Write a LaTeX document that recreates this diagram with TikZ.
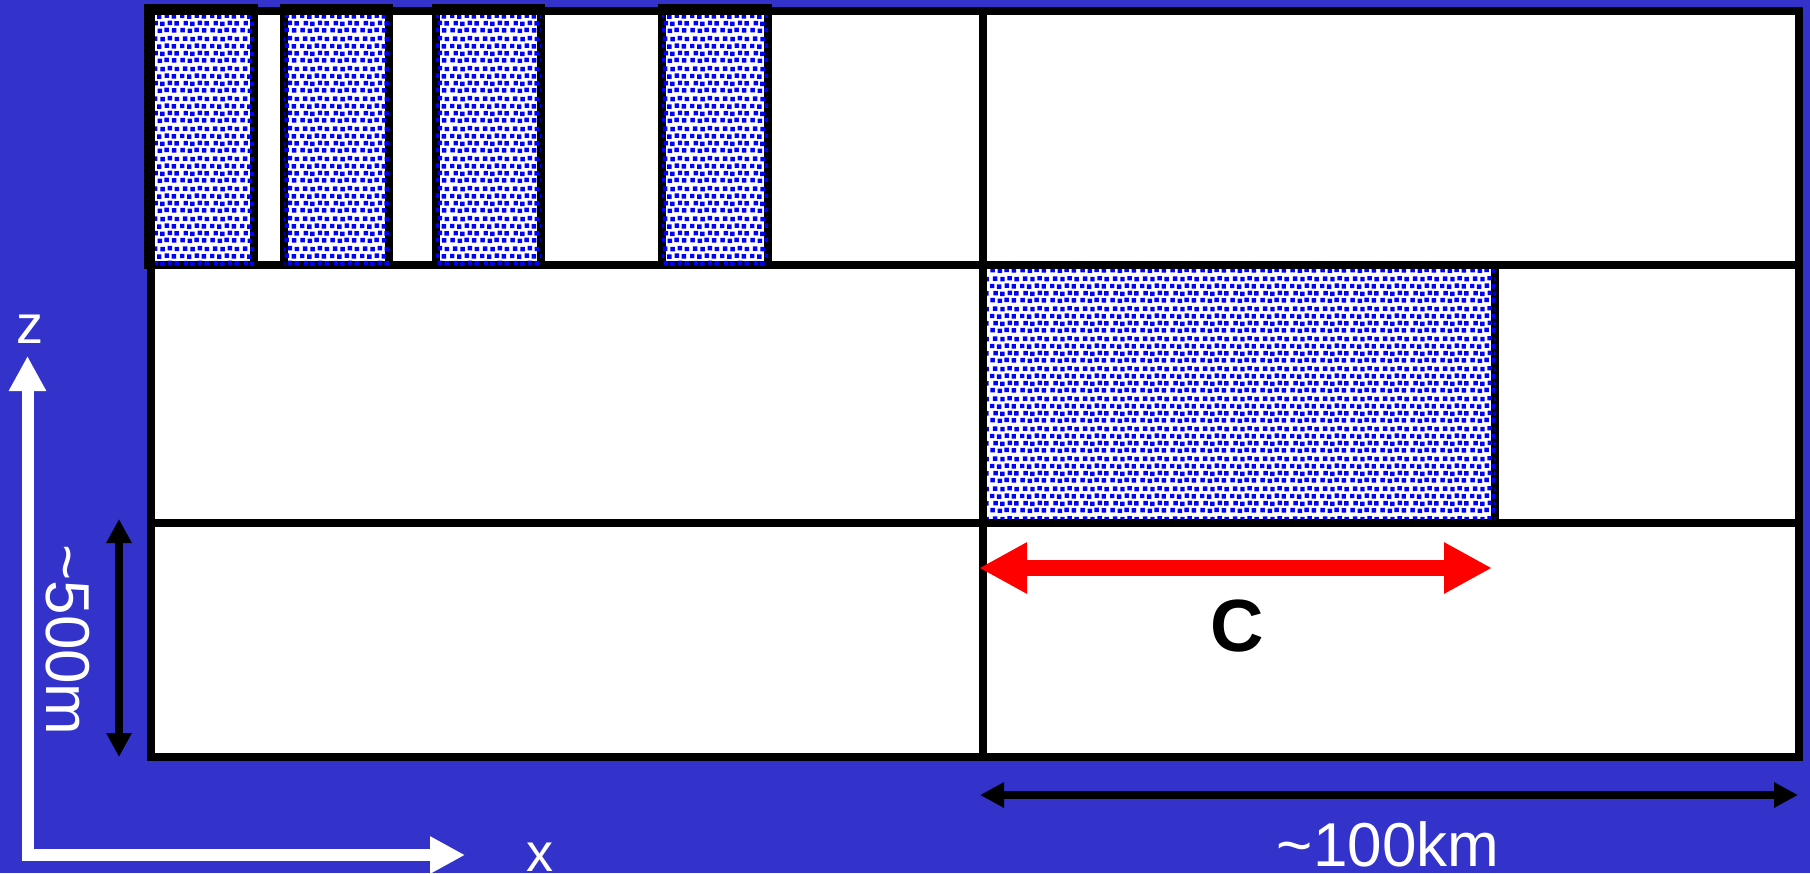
\documentclass[tikz,border=0pt]{standalone}
\usepackage{fontspec}
\setmainfont{Liberation Sans}
\usetikzlibrary{arrows.meta,patterns}
\definecolor{bgblue}{HTML}{3333CC}
\definecolor{dotblue}{HTML}{0000FF}
\definecolor{arrred}{HTML}{FF0000}
\newcommand{\patdot}[2]{\pgfpathrectangle{\pgfpoint{#1pt}{#2pt}}{\pgfpoint{2.3pt}{2.3pt}}}
\pgfdeclarepatternformonly{bluedots}{\pgfpointorigin}{\pgfpoint{15pt}{15pt}}{\pgfpoint{15pt}{15pt}}{%
  \patdot{0.2}{0.3}\patdot{3.9}{0.0}\patdot{7.4}{0.5}\patdot{11.2}{0.2}%
  \patdot{1.8}{3.9}\patdot{5.2}{3.6}\patdot{9.1}{4.1}\patdot{12.5}{3.8}%
  \patdot{0.0}{7.6}\patdot{3.6}{7.3}\patdot{7.5}{7.8}\patdot{11.1}{7.4}%
  \patdot{1.5}{11.4}\patdot{5.3}{11.1}\patdot{9.0}{11.6}\patdot{12.6}{11.2}%
  \pgfusepath{fill}}
\tikzset{
  dotbox/.style={fill=white, postaction={pattern=bluedots, pattern color=dotblue}, draw=black, line width=4pt},
  gridline/.style={draw=black, line width=4pt},
  frameline/.style={draw=black, line width=4.25pt, fill=white},
  redarrow/.style={draw=arrred, line width=8pt, {Triangle[length=24pt,width=24pt]}-{Triangle[length=24pt,width=24pt]}},
  blackarrow/.style={draw=black, line width=4pt, {Triangle[length=12pt,width=12pt]}-{Triangle[length=12pt,width=12pt]}},
  axisarrow/.style={draw=white, line width=6pt, line join=miter, {Triangle[length=17.5pt,width=17.5pt]}-{Triangle[length=17.5pt,width=17.5pt]}},
  biglabel/.style={text=white, font=\fontsize{31}{36}\selectfont, inner sep=0pt},
  axislabel/.style={text=white, font=\fontsize{27}{32}\selectfont, inner sep=0pt},
  clabel/.style={text=black, font=\fontsize{37}{44}\selectfont\bfseries, inner sep=0pt}
}
\begin{document}
\begin{tikzpicture}[x=0.5pt,y=-0.5pt]
\useasboundingbox (0,0) rectangle (1810,873);
\fill[bgblue] (0,0) rectangle (1810,873);
% main frame
\draw[frameline] (151,11) rectangle (1799,757);
% large patterned box
\draw[dotbox] (983,265) rectangle (1495,523);
% grid lines
\draw[gridline] (151,265) -- (1799,265);
\draw[gridline] (151,523) -- (1799,523);
\draw[gridline] (983,11) -- (983,757);
% top patterned boxes
\draw[dotbox] (148,8) rectangle (254,265);
\draw[dotbox] (284,8) rectangle (389,265);
\draw[dotbox] (436,8) rectangle (541,265);
\draw[dotbox] (662,8) rectangle (768,265);
\draw[frameline, fill=none] (151,11) rectangle (1799,757);
% coordinates
\coordinate (cl) at (979,568);
\coordinate (cr) at (1492,568);
\coordinate (wl) at (980,795);
\coordinate (wr) at (1798,795);
\coordinate (ht) at (119,519);
\coordinate (hb) at (119,757);
\coordinate (zt) at (27.5,356);
\coordinate (org) at (27.5,855);
\coordinate (xt) at (465,855);
% arrows
\draw[redarrow] (cl) -- (cr);
\draw[blackarrow] (wl) -- (wr);
\draw[blackarrow] (ht) -- (hb);
\draw[axisarrow] (zt) -- (org) -- (xt);
% labels
\node[clabel] (C) at (1237,626) {C};
\node[biglabel, anchor=base] (w) at (1388,866) {\char"007E 100km};
\node[biglabel, rotate=-90] (h) at (68,640) {\char"007E 500m};
\node[axislabel] (z) at (30,329) {z};
\node[axislabel] (x) at (540,857) {x};
\end{tikzpicture}
\end{document}
